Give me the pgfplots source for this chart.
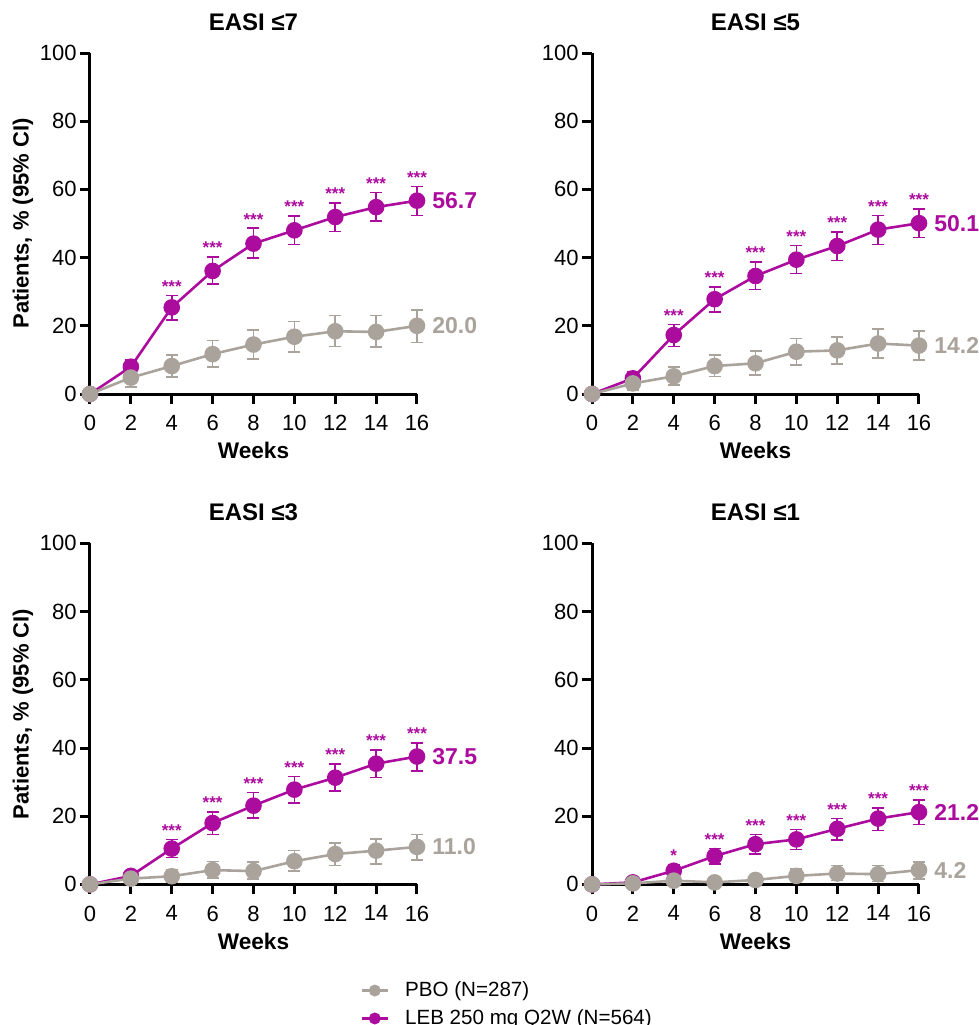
\documentclass[border=0pt]{standalone}
\usepackage{pgfplots}
\pgfplotsset{compat=1.18}
\usepackage{pgfplotstable}
\usepackage{fontspec}
\setmainfont{Liberation Sans}

\definecolor{leb}{RGB}{172,12,158}
\definecolor{pbo}{RGB}{170,163,156}

% x y lo hi s
\pgfplotstableread{
x y lo hi s
0 0 0 0 {}
2 8.0 5.8 10.0 {}
4 25.4 21.7 28.9 ***
6 36.1 32.2 40.2 ***
8 44.1 39.9 48.6 ***
10 48.0 43.8 52.2 ***
12 51.9 47.7 56.1 ***
14 54.8 50.7 59.1 ***
16 56.7 52.3 60.9 ***
}\lebA
\pgfplotstableread{
x y lo hi
0 0 0 0
2 4.8 2.1 6.8
4 8.2 4.9 11.4
6 11.7 8.0 15.7
8 14.5 10.3 18.8
10 16.8 12.4 21.3
12 18.4 13.9 23.0
14 18.2 13.7 23.0
16 20.0 15.1 24.7
}\pboA

\pgfplotstableread{
x y lo hi s
0 0 0 0 {}
2 4.6 3.1 6.5 {}
4 17.3 13.9 20.4 ***
6 27.8 24.1 31.4 ***
8 34.6 30.6 38.7 ***
10 39.4 35.3 43.6 ***
12 43.4 39.2 47.5 ***
14 48.2 43.9 52.4 ***
16 50.1 45.9 54.3 ***
}\lebB
\pgfplotstableread{
x y lo hi
0 0 0 0
2 3.1 1.2 5.1
4 5.2 2.6 8.0
6 8.2 5.1 11.4
8 9.0 5.6 12.7
10 12.4 8.5 16.3
12 12.8 8.8 16.7
14 14.8 10.6 19.1
16 14.2 10.0 18.5
}\pboB

\pgfplotstableread{
x y lo hi s
0 0 0 0 {}
2 2.5 1.6 3.5 {}
4 10.5 7.9 13.2 ***
6 18.0 14.6 21.3 ***
8 23.1 19.4 26.9 ***
10 27.8 23.9 31.6 ***
12 31.3 27.4 35.3 ***
14 35.4 31.3 39.5 ***
16 37.5 33.2 41.5 ***
}\lebC
\pgfplotstableread{
x y lo hi
0 0 0 0
2 1.7 0.6 2.7
4 2.4 0.6 4.3
6 4.2 1.8 6.7
8 3.9 1.5 6.6
10 6.8 3.9 10.0
12 8.9 5.5 12.2
14 9.9 6.0 13.4
16 11.0 7.2 14.6
}\pboC

\pgfplotstableread{
x y lo hi s
0 0 0 0 {}
2 0.6 0.1 1.3 {}
4 4.0 2.2 5.7 *
6 8.3 5.9 10.5 ***
8 11.8 8.9 14.6 ***
10 13.2 10.2 16.1 ***
12 16.3 13.0 19.3 ***
14 19.3 15.8 22.4 ***
16 21.2 17.6 24.7 ***
}\lebD
\pgfplotstableread{
x y lo hi
0 0 0 0
2 0.3 0.0 0.8
4 1.1 0.3 1.8
6 0.6 0.1 1.3
8 1.3 0.0 2.9
10 2.5 0.8 4.5
12 3.2 1.1 5.6
14 3.0 0.8 5.5
16 4.2 1.6 6.6
}\pboD

\pgfplotsset{
  panel/.style={
    scale only axis, width=163.5pt, height=170.5pt,
    xmin=0, xmax=16, ymin=0, ymax=100,
    axis lines=left, axis line style={-, line width=1.5pt},
    xtick={0,2,...,16}, ytick={0,20,...,100},
    tick style={black, line width=1.5pt}, tick align=outside,
    major tick length=5pt,
    tick label style={font=\fontsize{11}{13}\selectfont, inner sep=1.5pt},
    xticklabel shift=4pt,
    /pgf/number format/assume math mode=true,
    xlabel={Weeks},
    xlabel style={font=\bfseries\fontsize{11.3}{13}\selectfont,
      at={(axis description cs:0.5,0)}, anchor=center, yshift=-28.3pt},
    title style={font=\bfseries\fontsize{12}{14}\selectfont,
      at={(axis description cs:0.5,1)}, anchor=center, yshift=9.5pt},
    clip=false,
  },
  ylab/.style={
    ylabel={Patients, \% (95\% CI)},
    ylabel style={font=\bfseries\fontsize{11}{13}\selectfont,
      at={(axis description cs:0,0.5)}, anchor=center, yshift=33.5pt},
  },
  ser/.style={color=#1, line width=1.3pt, mark=*, mark size=3.5pt,
    mark options={solid, fill=#1, draw=#1},
    error bars/.cd, y dir=both, y explicit,
    error bar style={line width=0.8pt, color=#1},
    error mark options={rotate=90, mark size=3pt, line width=0.8pt, color=#1}},
  stars/.style={draw=none, mark=none, forget plot, nodes near coords,
    point meta=explicit symbolic,
    every node near coord/.append style={anchor=base, yshift=1.6pt,
      inner sep=0pt, text=leb, font=\bfseries\fontsize{8.5}{8.5}\selectfont}},
}
\tikzset{endlab/.style={anchor=west, inner sep=0pt, xshift=7.5pt,
    font=\bfseries\fontsize{11.5}{13}\selectfont}}

\begin{document}
\begin{tikzpicture}
\path[use as bounding box] (-45pt,-315.5pt) rectangle (444.5pt,197pt);

\begin{axis}[panel, ylab, title={EASI ≤7}, at={(0pt,0pt)}, anchor=south west]
  \addplot[ser=leb] table[x=x, y=y, y error plus expr=\thisrow{hi}-\thisrow{y}, y error minus expr=\thisrow{y}-\thisrow{lo}] {\lebA};
  \addplot[ser=pbo] table[x=x, y=y, y error plus expr=\thisrow{hi}-\thisrow{y}, y error minus expr=\thisrow{y}-\thisrow{lo}] {\pboA};
  \addplot[stars] table[x=x, y=hi, meta=s] {\lebA};
  \node[endlab, text=leb] at (axis cs:16,56.7) {56.7};
  \node[endlab, text=pbo] at (axis cs:16,20.0) {20.0};
\end{axis}

\begin{axis}[panel, title={EASI ≤5}, at={(251pt,0pt)}, anchor=south west]
  \addplot[ser=leb] table[x=x, y=y, y error plus expr=\thisrow{hi}-\thisrow{y}, y error minus expr=\thisrow{y}-\thisrow{lo}] {\lebB};
  \addplot[ser=pbo] table[x=x, y=y, y error plus expr=\thisrow{hi}-\thisrow{y}, y error minus expr=\thisrow{y}-\thisrow{lo}] {\pboB};
  \addplot[stars] table[x=x, y=hi, meta=s] {\lebB};
  \node[endlab, text=leb] at (axis cs:16,50.1) {50.1};
  \node[endlab, text=pbo] at (axis cs:16,14.2) {14.2};
\end{axis}

\begin{axis}[panel, ylab, title={EASI ≤3}, at={(0pt,-245.2pt)}, anchor=south west,
  reverse legend,
  legend style={draw=none, fill=none, at={(axis description cs:0.826,-0.275)},
    anchor=north west, font=\fontsize{10.3}{12}\selectfont, row sep=2pt,
    inner sep=0pt, nodes={inner ysep=1.5pt, inner xsep=8pt}},
  legend cell align=left,
  legend image code/.code={
    \draw[#1, mark=none, line width=1.3pt] (0pt,0pt) -- (13pt,0pt);
    \fill[#1] (6.5pt,0pt) circle (2.3pt);
  }]
  \addplot[ser=leb] table[x=x, y=y, y error plus expr=\thisrow{hi}-\thisrow{y}, y error minus expr=\thisrow{y}-\thisrow{lo}] {\lebC};
  \addlegendentry{LEB 250 mg Q2W (N=564)}
  \addplot[ser=pbo] table[x=x, y=y, y error plus expr=\thisrow{hi}-\thisrow{y}, y error minus expr=\thisrow{y}-\thisrow{lo}] {\pboC};
  \addlegendentry{PBO (N=287)}
  \addplot[stars] table[x=x, y=hi, meta=s] {\lebC};
  \node[endlab, text=leb] at (axis cs:16,37.5) {37.5};
  \node[endlab, text=pbo] at (axis cs:16,11.0) {11.0};
\end{axis}

\begin{axis}[panel, title={EASI ≤1}, at={(251pt,-245.2pt)}, anchor=south west]
  \addplot[ser=leb] table[x=x, y=y, y error plus expr=\thisrow{hi}-\thisrow{y}, y error minus expr=\thisrow{y}-\thisrow{lo}] {\lebD};
  \addplot[ser=pbo] table[x=x, y=y, y error plus expr=\thisrow{hi}-\thisrow{y}, y error minus expr=\thisrow{y}-\thisrow{lo}] {\pboD};
  \addplot[stars] table[x=x, y=hi, meta=s] {\lebD};
  \node[endlab, text=leb] at (axis cs:16,21.2) {21.2};
  \node[endlab, text=pbo] at (axis cs:16,4.2) {4.2};
\end{axis}
\end{tikzpicture}
\end{document}
